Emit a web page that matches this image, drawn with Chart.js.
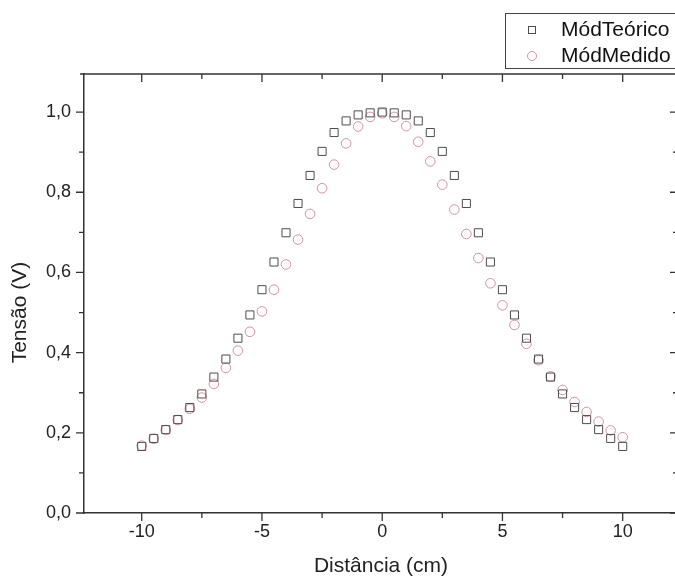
<!DOCTYPE html>
<html><head><meta charset="utf-8">
<script src="https://cdn.jsdelivr.net/npm/chart.js@4.4.0/dist/chart.umd.min.js"></script>
<style>html,body{margin:0;padding:0;overflow:hidden;background:#fff;width:675px;height:581px}canvas{display:block}</style>
</head><body>
<canvas id="c" width="690" height="581"></canvas>
<script>
const distancias = [-10,-9.5,-9,-8.5,-8,-7.5,-7,-6.5,-6,-5.5,-5,-4.5,-4,-3.5,-3,-2.5,-2,-1.5,-1,-0.5,0,0.5,1,1.5,2,2.5,3,3.5,4,4.5,5,5.5,6,6.5,7,7.5,8,8.5,9,9.5,10];
const modTeorico = [0.166,0.186,0.208,0.233,0.263,0.297,0.339,0.384,0.436,0.494,0.557,0.626,0.699,0.772,0.842,0.902,0.949,0.978,0.993,0.998,1.0,0.998,0.993,0.978,0.949,0.902,0.842,0.772,0.699,0.626,0.557,0.494,0.436,0.384,0.339,0.297,0.263,0.233,0.208,0.186,0.166];
const modMedido = [0.168,0.185,0.207,0.232,0.260,0.288,0.322,0.362,0.405,0.452,0.503,0.557,0.620,0.682,0.746,0.810,0.869,0.922,0.964,0.988,0.997,0.988,0.965,0.926,0.877,0.819,0.757,0.696,0.636,0.573,0.518,0.469,0.422,0.381,0.341,0.307,0.277,0.252,0.228,0.206,0.189];
const xMajorTicks = [-10,-5,0,5,10];
const xMinorTicks = [-7.5,-2.5,2.5,7.5];
const xTickLabels = ['-10','-5','0','5','10'];
const yMajorTicks = [0,0.2,0.4,0.6,0.8,1.0];
const yMinorTicks = [0.1,0.3,0.5,0.7,0.9];
const yTickLabels = ['0,0','0,2','0,4','0,6','0,8','1,0'];
const seriesNames = ['MódTeórico','MódMedido'];
const xTitle = 'Distância (cm)';
const yTitle = 'Tensão (V)';

const FONT = "'Liberation Sans', Arial, sans-serif";
const AXIS = '#333333';
const SQ = '#4d4d4d';
const CI = '#d6909f';

const framePlugin = {
  id: 'frame',
  afterDraw(chart) {
    const ctx = chart.ctx, a = chart.chartArea;
    const xs = chart.scales.x, ys = chart.scales.y;
    ctx.save();
    ctx.strokeStyle = AXIS;
    ctx.lineWidth = 1.5;
    ctx.beginPath();
    ctx.moveTo(a.left - 4, a.top); ctx.lineTo(a.right, a.top);
    ctx.moveTo(a.right, a.top); ctx.lineTo(a.right, a.bottom);
    ctx.stroke();
    ctx.lineWidth = 1.3;
    ctx.beginPath();
    const tickX = (v, len) => {
      const p = xs.getPixelForValue(v);
      ctx.moveTo(p, a.bottom); ctx.lineTo(p, a.bottom + len);
      ctx.moveTo(p, a.top); ctx.lineTo(p, a.top + len);
    };
    const tickY = (v, len) => {
      const p = ys.getPixelForValue(v);
      ctx.moveTo(a.left, p); ctx.lineTo(a.left - len, p);
      ctx.moveTo(a.right, p); ctx.lineTo(a.right - len, p);
    };
    xMajorTicks.forEach(v => tickX(v, 8));
    xMinorTicks.forEach(v => tickX(v, 5));
    yMajorTicks.forEach(v => tickY(v, 8));
    yMinorTicks.forEach(v => tickY(v, 5));
    ctx.stroke();
    // y axis title
    ctx.fillStyle = '#222';
    ctx.font = '21px ' + FONT;
    ctx.textAlign = 'center';
    ctx.textBaseline = 'middle';
    ctx.save();
    ctx.translate(20, (ys.getPixelForValue(0.4) + ys.getPixelForValue(0.6)) / 2);
    ctx.rotate(-Math.PI / 2);
    ctx.fillText(yTitle, 0, 0);
    ctx.restore();
    // legend
    ctx.lineWidth = 1;
    ctx.strokeStyle = '#444';
    ctx.strokeRect(505.5, 13.5, 200, 55);
    ctx.strokeStyle = SQ;
    ctx.strokeRect(528.5, 26.5, 7, 7);
    ctx.strokeStyle = CI;
    ctx.beginPath(); ctx.arc(532, 56, 4.5, 0, Math.PI * 2); ctx.stroke();
    ctx.fillStyle = '#111';
    ctx.font = '21px ' + FONT;
    ctx.textBaseline = 'middle';
    ctx.textAlign = 'left';
    ctx.fillText(seriesNames[0], 561, 30);
    ctx.fillText(seriesNames[1], 561, 56);
    ctx.restore();
  }
};

new Chart(document.getElementById('c'), {
  type: 'scatter',
  data: {
    datasets: [
      { label: seriesNames[0], data: distancias.map((x, i) => ({x, y: modTeorico[i]})),
        pointStyle: 'rect', pointRadius: 5.7, pointHoverRadius: 5.7, borderColor: SQ, borderWidth: 1, backgroundColor: 'rgba(0,0,0,0)', showLine: false },
      { label: seriesNames[1], data: distancias.map((x, i) => ({x, y: modMedido[i]})),
        pointStyle: 'circle', pointRadius: 4.8, pointHoverRadius: 4.8, borderColor: CI, borderWidth: 1, backgroundColor: 'rgba(0,0,0,0)', showLine: false }
    ]
  },
  options: {
    responsive: false,
    animation: false,
    devicePixelRatio: 1,
    layout: { padding: { top: 74, right: 12, left: 0, bottom: 0 } },
    plugins: { legend: { display: false }, tooltip: { enabled: false } },
    scales: {
      x: {
        type: 'linear', min: -12.4, max: 12.3,
        afterBuildTicks: s => { s.ticks = xMajorTicks.map(v => ({ value: v })); },
        afterFit: s => { s.height = 68; },
        ticks: { callback: (v) => { const i = xMajorTicks.indexOf(v); return i >= 0 ? xTickLabels[i] : ''; },
                 font: { family: FONT, size: 18 }, color: '#222', padding: 8, maxRotation: 0, autoSkip: false },
        grid: { display: false, drawTicks: false },
        border: { display: true, color: AXIS, width: 1.5 },
        title: { display: true, text: xTitle, font: { family: FONT, size: 21 }, color: '#222', padding: { top: 0, bottom: 2 } }
      },
      y: {
        type: 'linear', min: 0, max: 1.095,
        afterBuildTicks: s => { s.ticks = yMajorTicks.map(v => ({ value: v })); },
        afterFit: s => { s.width = 84; },
        ticks: { callback: (v) => { const i = yMajorTicks.findIndex(t => Math.abs(t - v) < 1e-9); return i >= 0 ? yTickLabels[i] : ''; },
                 font: { family: FONT, size: 18 }, color: '#222', padding: 13, autoSkip: false },
        grid: { display: false, drawTicks: false },
        border: { display: true, color: AXIS, width: 1.5 },
        title: { display: false }
      }
    }
  },
  plugins: [framePlugin]
});
</script>
</body></html>
